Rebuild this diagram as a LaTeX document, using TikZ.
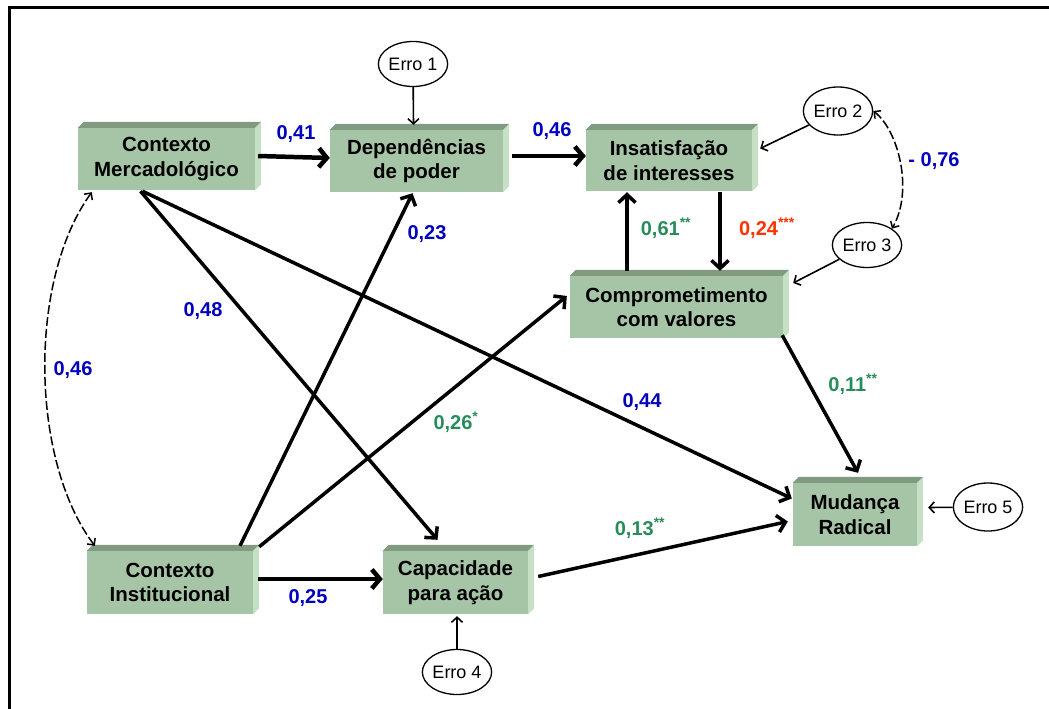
\documentclass[tikz,border=0pt]{standalone}
\usepackage{fontspec}
\setmainfont{Liberation Sans}
\usetikzlibrary{arrows.meta,calc,shapes.geometric}

\definecolor{facegreen}{RGB}{166,197,166}
\definecolor{topgreen}{RGB}{128,155,128}
\definecolor{sidegreen}{RGB}{197,224,197}
\definecolor{coefblue}{RGB}{0,0,190}
\definecolor{coefgreen}{RGB}{40,140,90}
\definecolor{coefred}{RGB}{255,50,0}

\tikzset{
  var/.style={fill=facegreen, inner sep=0pt, align=center,
    font=\bfseries\fontsize{20.5}{24.5}\selectfont},
  err/.style={ellipse, draw, line width=1.3pt, minimum width=62pt,
    minimum height=45pt, inner sep=0pt, font=\fontsize{18}{21}\selectfont},
  bigarrow/.style={line width=4.5pt, -{Straight Barb[length=8pt,width=19pt]}},
  midarrow/.style={line width=3.5pt, -{Straight Barb[length=8pt,width=17pt]}},
  errarrow/.style={line width=1.6pt, -{Straight Barb[length=5pt,width=11pt]}},
  cov/.style={line width=1.5pt, dash pattern=on 9pt off 3pt,
    {Straight Barb[length=5pt,width=10pt]}-{Straight Barb[length=5pt,width=10pt]}},
  coef/.style={inner sep=0pt, font=\bfseries\fontsize{20}{24}\selectfont},
}

% top and right faces that give each variable box its depth
\newcommand\boxbevel[1]{%
  \fill[topgreen] (#1.north west) -- ++(6,-6) -- ([shift={(6,-6)}]#1.north east)
    -- (#1.north east) -- cycle;
  \fill[sidegreen] (#1.north east) -- ++(6,-6) -- ([shift={(6,-6)}]#1.south east)
    -- (#1.south east) -- cycle;}

\begin{document}
\begin{tikzpicture}[x=1pt,y=-1pt]
\useasboundingbox (0,0) rectangle (1049,709);

% frame
\draw[line width=3pt] (9,709) -- (9,8) -- (1049,8);

% latent variables
\node[var, minimum width=177pt, minimum height=62pt] (CM) at (166.5,159) {Contexto\\Mercadológico};
\node[var, minimum width=173pt, minimum height=62pt] (DP) at (416.5,161) {Dependências\\de poder};
\node[var, minimum width=166pt, minimum height=61pt] (IS) at (669,160.5) {Insatisfação\\de interesses};
\node[var, minimum width=213pt, minimum height=62pt] (CV) at (676.5,307) {Comprometimento\\com valores};
\node[var, minimum width=124pt, minimum height=63pt] (MR) at (855,514.5) {Mudança\\Radical};
\node[var, minimum width=166pt, minimum height=63pt] (CI) at (170,582.5) {Contexto\\Institucional};
\node[var, minimum width=145pt, minimum height=63pt] (CA) at (455.5,582.5) {Capacidade\\para ação};
\foreach \b in {CM,DP,IS,CV,MR,CI,CA} {\boxbevel{\b}}

% error terms
\node[err] (E1) at (413,64) {Erro 1};
\node[err, minimum height=48pt] (E2) at (838,111) {Erro 2};
\node[err] (E3) at (867,245) {Erro 3};
\node[err] (E4) at (457,672) {Erro 4};
\node[err, minimum height=48pt] (E5) at (988,507) {Erro 5};

% structural paths
\draw[bigarrow] ([shift={(3,-3)}]CM.east) -- ([shift={(0,-3)}]DP.west);
\draw[bigarrow] ([shift={(9,-5)}]DP.east) -- ([shift={(0,-4.5)}]IS.west);
\draw[bigarrow] ([shift={(5,-3.5)}]CI.east) -- ([shift={(0,-3.5)}]CA.west);
\draw[midarrow] ([shift={(51,1)}]IS.south) -- ([shift={(43.5,-5)}]CV.north);
\draw[midarrow] ([shift={(-49.5,-5)}]CV.north) -- ([shift={(-42,1)}]IS.south);
\draw[midarrow] ([shift={(-1,-3)}]CV.south east) -- ([shift={(3,-10)}]MR.north);
\draw[midarrow] ([shift={(-24,1)}]CM.south) -- ([shift={(-1,-16)}]MR.west);
\draw[midarrow] ([shift={(-26,1)}]CM.south) -- ([shift={(-18,-11)}]CA.north);
\draw[midarrow] ([shift={(70,-5)}]CI.north) -- ([shift={(-4,1)}]DP.south);
\draw[midarrow] ([shift={(6,-4)}]CI.north east) -- ([shift={(-3,-11)}]CV.west);
\draw[midarrow] ([shift={(10,-6)}]CA.east) -- ([shift={(-5,7)}]MR.west);

% error paths
\draw[errarrow] (E1) -- ([shift={(-3,-5)}]DP.north);
\draw[errarrow] (E2) -- ([shift={(8,-12)}]IS.east);
\draw[errarrow] (E3) -- ([shift={(10,-24)}]CV.east);
\draw[errarrow] (E4) -- ([shift={(1.5,2)}]CA.south);
\draw[errarrow] (E5) -- ([shift={(11,-7)}]MR.east);

% covariances
\draw[cov] ([shift={(14,2)}]CM.south west) .. controls (28,280) and (30,460) .. ([shift={(8,-5)}]CI.north west);
\draw[cov] (E2.east) .. controls (898,130) and (914,190) .. (E3.north east);

% coefficients
\node[coef, text=coefblue] (k1) at (296,134) {0,41};
\node[coef, text=coefblue] (k2) at (552,131) {0,46};
\node[coef, text=coefblue] (k3) at (934,161) {- 0,76};
\node[coef, text=coefgreen] (k4) at (666,228) {0,61\textsuperscript{**}};
\node[coef, text=coefred] (k5) at (767,228) {0,24\textsuperscript{***}};
\node[coef, text=coefgreen] (k6) at (853,384) {0,11\textsuperscript{**}};
\node[coef, text=coefblue] (k7) at (642,402) {0,44};
\node[coef, text=coefgreen] (k8) at (640,528) {0,13\textsuperscript{**}};
\node[coef, text=coefblue] (k9) at (203,311) {0,48};
\node[coef, text=coefblue] (k10) at (427,234) {0,23};
\node[coef, text=coefblue] (k11) at (73,370) {0,46};
\node[coef, text=coefgreen] (k12) at (456,422) {0,26\textsuperscript{*}};
\node[coef, text=coefblue] (k13) at (308,598) {0,25};
\end{tikzpicture}
\end{document}
